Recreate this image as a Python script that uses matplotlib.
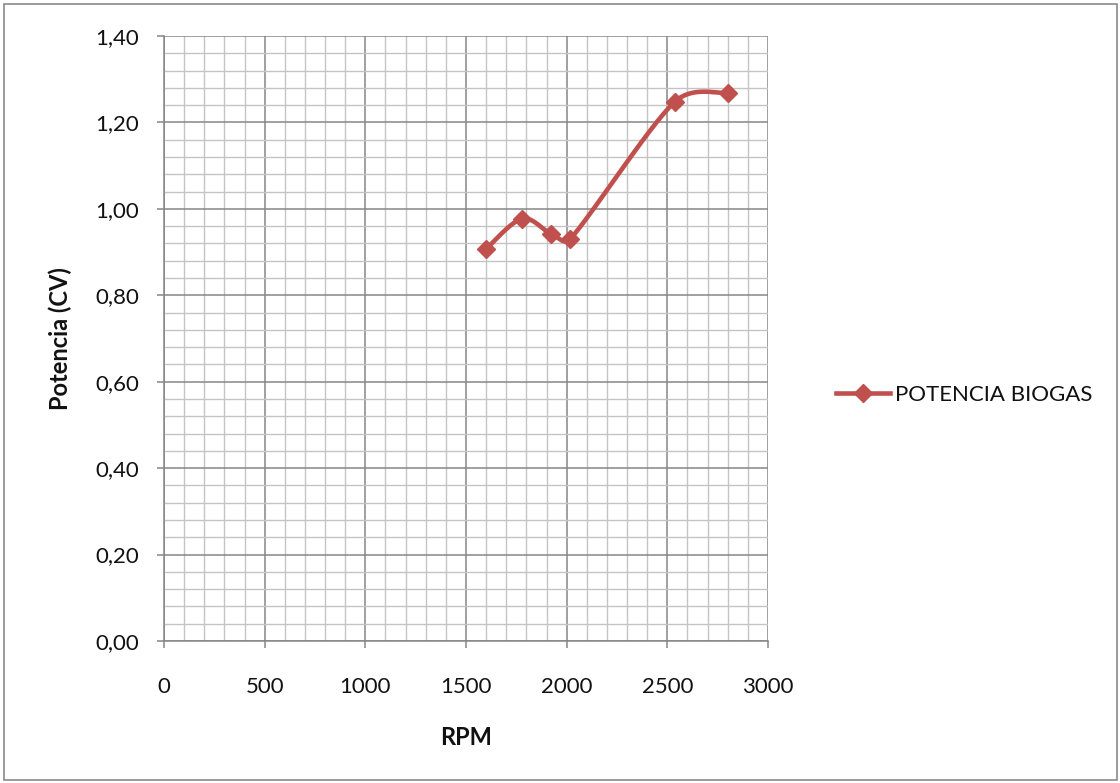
#!/usr/bin/env python3
"""Potencia vs RPM curve for the biogas engine test."""

import numpy as np
import matplotlib
matplotlib.use("Agg")
import matplotlib.pyplot as plt
from matplotlib.ticker import MultipleLocator, FuncFormatter
from matplotlib.lines import Line2D
from matplotlib.patches import Rectangle

rpm = [1600, 1778, 1922, 2017, 2538, 2802]
potencia = [0.907, 0.977, 0.942, 0.930, 1.248, 1.268]
serie_label = "POTENCIA BIOGAS"

LINE_COLOR = "#C0504D"
X_MAX, Y_MAX = 3000, 1.40


def smooth_curve(x, y, steps=60):
    """Bezier smoothing through every point, control handles clamped per segment."""
    # work in normalised plot units so both axes weigh the same
    sx, sy = X_MAX / 604.0, Y_MAX / 605.0
    pts = np.column_stack([np.asarray(x, float) / sx, np.asarray(y, float) / sy])
    n = len(pts)
    t = np.linspace(0, 1, steps)[:, None]
    out = []
    for i in range(n - 1):
        p0, p1 = pts[max(i - 1, 0)], pts[i]
        p2, p3 = pts[i + 1], pts[min(i + 2, n - 1)]
        seg = np.linalg.norm(p2 - p1)
        d1 = (p2 - p0) / 6.0
        d2 = (p3 - p1) / 6.0
        for d in (d1, d2):
            m = np.linalg.norm(d)
            if m > 0.45 * seg:
                d *= 0.45 * seg / m
        c1, c2 = p1 + d1, p2 - d2
        b = (1 - t) ** 3 * p1 + 3 * (1 - t) ** 2 * t * c1 + 3 * (1 - t) * t ** 2 * c2 + t ** 3 * p2
        out.append(b)
    b = np.vstack(out)
    return b[:, 0] * sx, b[:, 1] * sy


plt.rcParams['font.family'] = ['Lato', 'DejaVu Sans']

fig = plt.figure(figsize=(11.2, 7.83), dpi=100)
fig.patch.set_facecolor("white")
fig.patches.append(Rectangle((0.004, 0.004), 0.993, 0.991, transform=fig.transFigure,
                             fill=False, edgecolor="#8a8a8a", linewidth=1.2))

ax = fig.add_axes([0.1464, 0.1814, 0.5393, 0.7727])
ax.set_xlim(0, X_MAX)
ax.set_ylim(0, Y_MAX)

ax.xaxis.set_major_locator(MultipleLocator(500))
ax.xaxis.set_minor_locator(MultipleLocator(100))
ax.yaxis.set_major_locator(MultipleLocator(0.20))
ax.yaxis.set_minor_locator(MultipleLocator(0.04))
ax.yaxis.set_major_formatter(FuncFormatter(lambda v, _: f"{v:.2f}".replace(".", ",")))

ax.grid(True, which="minor", color="#c4c4c4", linewidth=1.0)
ax.grid(True, which="major", color="#868686", linewidth=1.1)
ax.set_axisbelow(True)

for side in ("top", "right"):
    ax.spines[side].set_visible(False)
for side in ("left", "bottom"):
    ax.spines[side].set_color("#868686")
    ax.spines[side].set_linewidth(1.1)

ax.tick_params(which="major", direction="out", length=5, width=1.1, color="#868686",
               labelsize=16, labelcolor="#111111")
ax.tick_params(which="minor", length=0)
ax.tick_params(axis="x", pad=21)
ax.tick_params(axis="y", pad=13)

xs, ys = smooth_curve(rpm, potencia)
ax.plot(xs, ys, color=LINE_COLOR, linewidth=3.3, solid_capstyle="round", zorder=3)
ax.plot(rpm, potencia, linestyle="none", marker="D", markersize=9,
        color=LINE_COLOR, zorder=4)

ax.set_xlabel("RPM", fontsize=17, fontweight="bold", color="#111111")
ax.xaxis.set_label_coords(0.5, -0.160)
ax.xaxis.label.set_va("center")
ax.set_ylabel("Potencia (CV)", fontsize=17, fontweight="bold", color="#111111")
ax.yaxis.set_label_coords(-0.172, 0.5)
ax.yaxis.label.set_va("center")

handle = Line2D([], [], color=LINE_COLOR, linewidth=3.3, marker="D", markersize=9)
fig.legend([handle], [serie_label], loc="center left", bbox_to_anchor=(0.7464, 0.4955),
           frameon=False, fontsize=16, handlelength=2.45, handletextpad=0.22,
           borderpad=0, borderaxespad=0, labelcolor="#111111")

fig.savefig("out.png", dpi=100, facecolor="white")
